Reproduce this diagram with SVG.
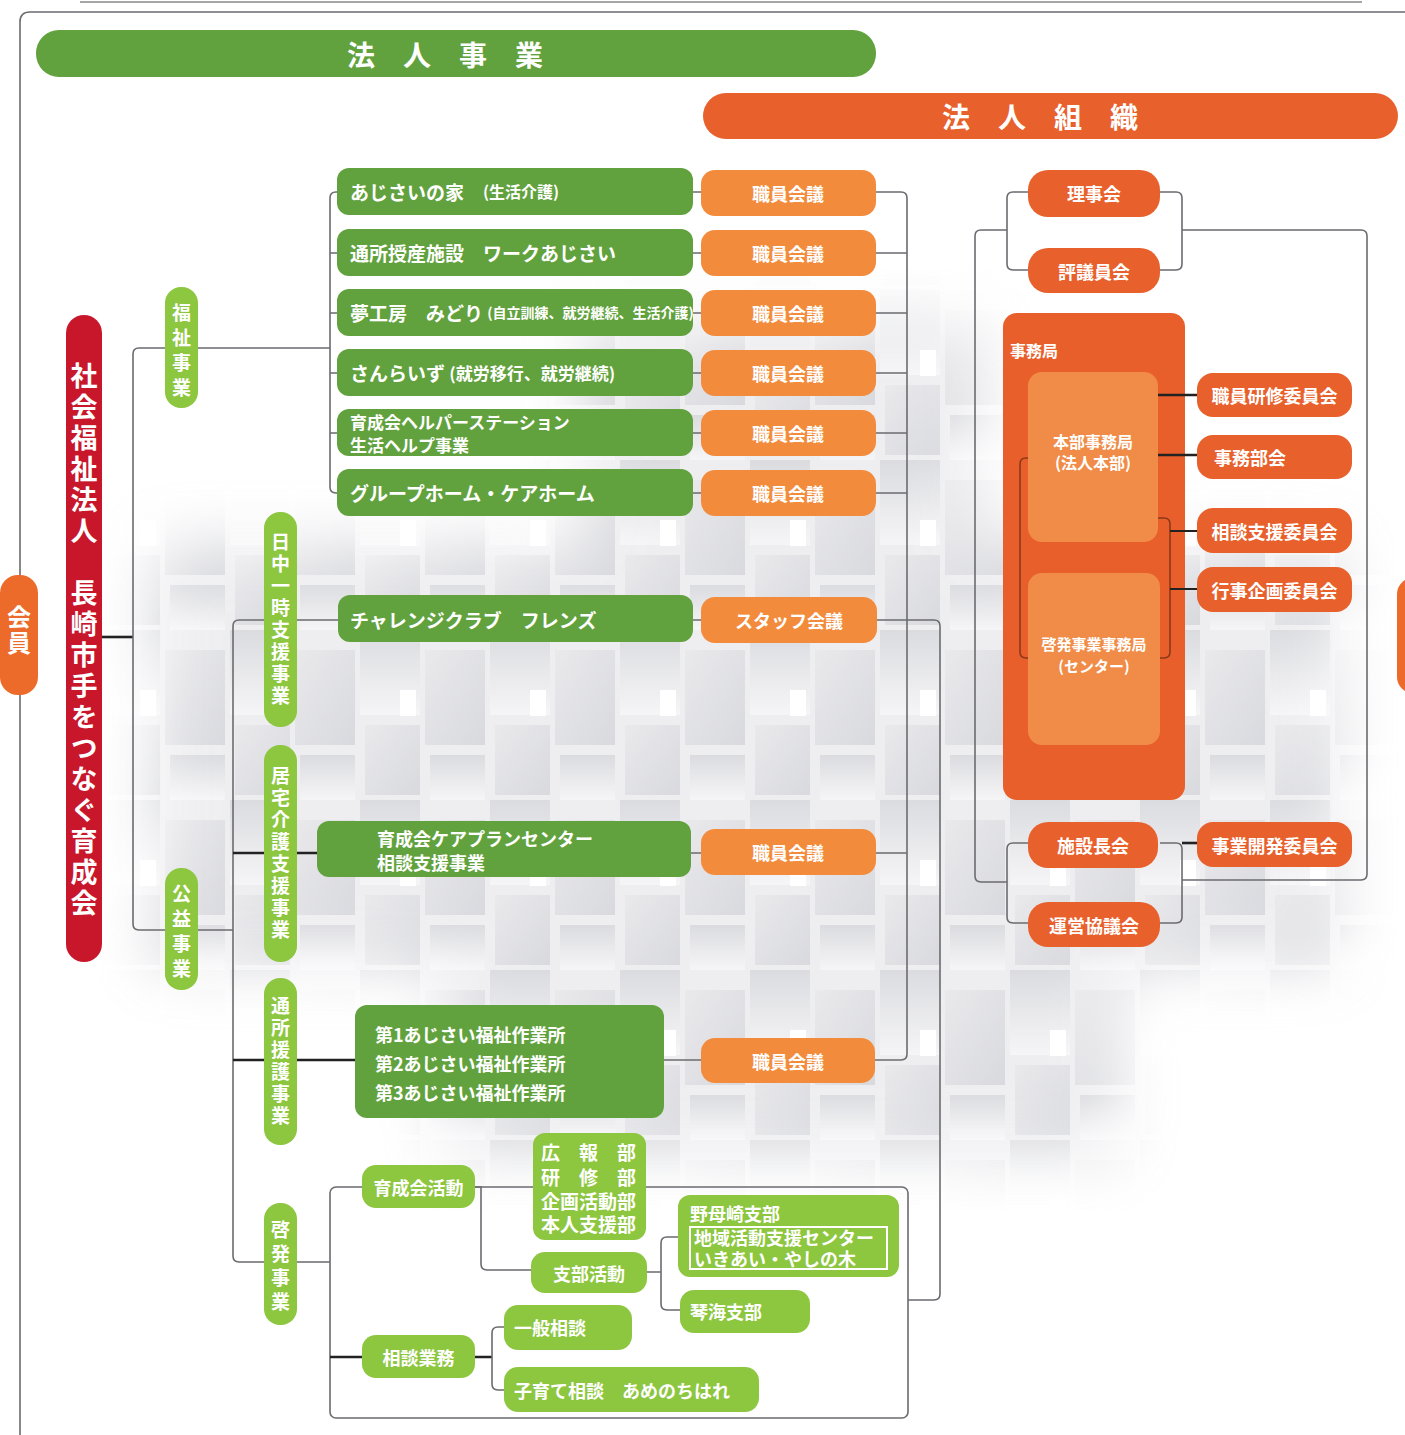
<svg xmlns="http://www.w3.org/2000/svg" width="1405" height="1435" viewBox="0 0 1405 1435">
<defs>
<style>
text{font-family:"Noto Sans CJK JP","Noto Sans",sans-serif;font-weight:700;fill:#fff}
.hd{font-size:28px;text-anchor:middle;dominant-baseline:central}
.g{fill:#62a23e}
.lg{fill:#8dc63f}
.om{fill:#f28b3c}
.or{fill:#e8602c}
.t19{font-size:19px;dominant-baseline:central}
.c{text-anchor:middle}
.t18{font-size:18px;dominant-baseline:central;text-anchor:middle}
.v{writing-mode:vertical-rl;text-orientation:upright;font-size:19px;letter-spacing:3px}
.ln{fill:none;stroke:#6b6b70;stroke-width:1.6}
.bk{fill:none;stroke:#222;stroke-width:2.6}
.br{fill:none;stroke:#8a3a1a;stroke-width:1.6}
</style>
<linearGradient id="tg" x1="0" y1="0" x2="0" y2="1"><stop offset="0" stop-color="#c4c5cc"/><stop offset="1" stop-color="#f0f0f3"/></linearGradient>
<linearGradient id="tg2" x1="0" y1="0" x2="1" y2="1"><stop offset="0" stop-color="#dcdce1"/><stop offset="1" stop-color="#c0c1c9"/></linearGradient>
<pattern id="mos" patternUnits="userSpaceOnUse" x="100" y="290" width="130" height="170">
<rect x="0" y="0" width="130" height="170" fill="#e4e4e8"/>
<rect x="0" y="0" width="60" height="85" fill="url(#tg)"/>
<rect x="65" y="20" width="60" height="95" fill="url(#tg2)"/>
<rect x="5" y="95" width="55" height="70" fill="url(#tg2)"/>
<rect x="70" y="125" width="55" height="45" fill="url(#tg)"/>
<rect x="40" y="60" width="16" height="26" fill="#fff"/>
</pattern>
<filter id="bl" x="-20%" y="-20%" width="140%" height="140%"><feGaussianBlur stdDeviation="30"/></filter>
<mask id="mk" maskUnits="userSpaceOnUse" x="0" y="0" width="1405" height="1435">
<polygon points="580,320 980,320 980,540 1340,540 1340,970 1120,970 1120,1160 440,1160 440,970 150,970 150,540 580,540" fill="#fff" filter="url(#bl)"/>
</mask>
</defs>
<rect width="1405" height="1435" fill="#fff"/>
<g id="mosaic" mask="url(#mk)" opacity="0.6">
<rect x="100" y="270" width="1300" height="940" fill="url(#mos)"/>
</g>

<g id="connectors">
<path class="ln" d="M20,1435 V22 Q20,12 30,12 H1405"/>
<path d="M80,2 H1362" stroke="#888" stroke-width="1.5"/>
<path class="bk" d="M102,637 H133"/>
<path class="ln" d="M330,348 H139 Q133,348 133,354 V924 Q133,930 139,930 H233"/>
<path class="ln" d="M340,620 H239 Q233,620 233,626 V1256 Q233,1262 239,1262 H330"/>
<path class="bk" d="M233,853 H318 M233,1060 H356"/>
<path class="ln" d="M337,192 H336 Q330,192 330,198 V487 Q330,493 336,493 H337 M330,253 H337 M330,313 H337 M330,373 H337 M330,433 H337"/>
<path class="ln" d="M693,192 H701 M693,253 H701 M693,313 H701 M693,373 H701 M693,433 H701 M693,493 H701 M693,620 H701 M691,853 H701 M664,1060 H701"/>
<path class="ln" d="M876,192 H901 Q907,192 907,198 V1054 Q907,1060 901,1060 H875 M876,253 H907 M876,313 H907 M876,373 H907 M876,433 H907 M876,493 H907 M876,853 H907"/>
<path class="ln" d="M877,620 H934 Q940,620 940,626 V1294 Q940,1300 934,1300 H908"/>
<rect class="ln" x="330" y="1187" width="578" height="231" rx="6"/>
<path class="ln" d="M475,1187 H481 V1264 Q481,1270 487,1270 H531"/>
<path class="ln" d="M647,1272 H661 M680,1237 H667 Q661,1237 661,1243 V1304 Q661,1310 667,1310 H680"/>
<path class="bk" d="M330,1357 H362 M475,1357 H492"/>
<path class="ln" d="M504,1327 H498 Q492,1327 492,1333 V1384 Q492,1390 498,1390 H504"/>
<path class="ln" d="M1028,192 H1013 Q1007,192 1007,198 V264 Q1007,270 1013,270 H1028 M1160,192 H1176 Q1182,192 1182,198 V264 Q1182,270 1176,270 H1160"/>
<path class="ln" d="M1182,230 H1361 Q1367,230 1367,236 V874 Q1367,880 1361,880 H1182"/>
<path class="ln" d="M1007,230 H981 Q975,230 975,236 V876 Q975,882 981,882 H1007"/>
<path class="ln" d="M1028,843 H1013 Q1007,843 1007,849 V917 Q1007,923 1013,923 H1028 M1160,843 H1176 Q1182,843 1182,849 V917 Q1182,923 1176,923 H1160"/>
<path class="bk" d="M1182,843 H1198"/>
</g>

<g id="hojin-jigyo"><rect x="36" y="30" width="840" height="47" rx="23" class="g"/><text x="445" y="54" class="hd">法　人　事　業</text></g>
<g id="hojin-soshiki"><rect x="703" y="93" width="695" height="46" rx="23" class="or"/><text x="1040" y="116" class="hd">法　人　組　織</text></g>

<g id="kaiin"><rect x="0" y="575" width="38" height="120" rx="18" fill="#ec6a2a"/><text x="19" y="605" class="v" style="font-size:24px;letter-spacing:2px">会員</text></g>
<g id="kaiin-right"><rect x="1397" y="578" width="40" height="115" rx="16" fill="#ec6a2a"/></g>
<g id="hojin"><rect x="66" y="315" width="36" height="647" rx="18" fill="#c8162b"/><text x="84" y="362" class="v" style="font-size:27px;letter-spacing:4px">社会福祉法人　長崎市手をつなぐ育成会</text></g>

<g id="fukushi"><rect x="165" y="287" width="33" height="121" rx="16" class="lg"/><text x="181.5" y="303" class="v" style="letter-spacing:6px">福祉事業</text></g>
<g id="koueki"><rect x="165" y="868" width="33" height="122" rx="16" class="lg"/><text x="181.5" y="884" class="v" style="letter-spacing:6px">公益事業</text></g>
<g id="nitchu"><rect x="264" y="512" width="33" height="215" rx="16" class="lg"/><text x="280.5" y="532" class="v">日中一時支援事業</text></g>
<g id="kyotaku"><rect x="264" y="745" width="33" height="217" rx="16" class="lg"/><text x="280.5" y="766" class="v">居宅介護支援事業</text></g>
<g id="tsusho"><rect x="264" y="978" width="33" height="167" rx="16" class="lg"/><text x="280.5" y="996" class="v">通所援護事業</text></g>
<g id="keihatsu"><rect x="264" y="1203" width="33" height="122" rx="16" class="lg"/><text x="280.5" y="1220" class="v" style="letter-spacing:5px">啓発事業</text></g>

<g id="ajisai-ie"><rect x="337" y="168" width="356" height="47" rx="12" class="g"/><text x="350" y="191" class="t19">あじさいの家　<tspan font-size="16">(生活介護)</tspan></text></g>
<g id="work-ajisai"><rect x="337" y="229" width="356" height="47" rx="12" class="g"/><text x="350" y="252" class="t19">通所授産施設　ワークあじさい</text></g>
<g id="midori"><rect x="337" y="289" width="356" height="47" rx="12" class="g"/><text x="350" y="312" class="t19">夢工房　みどり <tspan font-size="14">(自立訓練、就労継続、生活介護)</tspan></text></g>
<g id="sunrise"><rect x="337" y="349" width="356" height="47" rx="12" class="g"/><text x="350" y="372" class="t19">さんらいず <tspan font-size="17">(就労移行、就労継続)</tspan></text></g>
<g id="helper"><rect x="337" y="409" width="356" height="47" rx="12" class="g"/><text x="350" y="421" class="t19" style="font-size:17px">育成会ヘルパーステーション<tspan x="350" dy="23">生活ヘルプ事業</tspan></text></g>
<g id="gh"><rect x="337" y="469" width="356" height="47" rx="12" class="g"/><text x="350" y="492" class="t19">グループホーム・ケアホーム</text></g>

<g id="m1"><rect x="701" y="170" width="175" height="46" rx="14" class="om"/><text x="788" y="193" class="t18">職員会議</text></g>
<g id="m2"><rect x="701" y="230" width="175" height="46" rx="14" class="om"/><text x="788" y="253" class="t18">職員会議</text></g>
<g id="m3"><rect x="701" y="290" width="175" height="46" rx="14" class="om"/><text x="788" y="313" class="t18">職員会議</text></g>
<g id="m4"><rect x="701" y="350" width="175" height="46" rx="14" class="om"/><text x="788" y="373" class="t18">職員会議</text></g>
<g id="m5"><rect x="701" y="410" width="175" height="46" rx="14" class="om"/><text x="788" y="433" class="t18">職員会議</text></g>
<g id="m6"><rect x="701" y="470" width="175" height="46" rx="14" class="om"/><text x="788" y="493" class="t18">職員会議</text></g>

<g id="friends"><rect x="338" y="595" width="355" height="47" rx="12" class="g"/><text x="350" y="619" class="t19">チャレンジクラブ　フレンズ</text></g>
<g id="staff"><rect x="701" y="597" width="176" height="46" rx="14" class="om"/><text x="789" y="620" class="t18">スタッフ会議</text></g>
<g id="careplan"><rect x="317" y="821" width="374" height="56" rx="12" class="g"/><text x="377" y="838" class="t19" style="font-size:18px">育成会ケアプランセンター<tspan x="377" dy="24">相談支援事業</tspan></text></g>
<g id="m7"><rect x="701" y="829" width="175" height="46" rx="14" class="om"/><text x="788" y="852" class="t18">職員会議</text></g>
<g id="sagyosho"><rect x="355" y="1005" width="309" height="113" rx="12" class="g"/><text x="375" y="1034" class="t19" style="font-size:18px">第1あじさい福祉作業所<tspan x="375" dy="29">第2あじさい福祉作業所</tspan><tspan x="375" dy="29">第3あじさい福祉作業所</tspan></text></g>
<g id="m8"><rect x="701" y="1038" width="174" height="45" rx="14" class="om"/><text x="788" y="1061" class="t18">職員会議</text></g>

<g id="ikusei-katsudo"><rect x="362" y="1165" width="113" height="43" rx="14" class="lg"/><text x="418.5" y="1187" class="t18">育成会活動</text></g>
<g id="bukai"><rect x="533" y="1133" width="113" height="107" rx="12" class="lg"/><text x="541" y="1151" class="t19">広　報　部<tspan x="541" dy="25">研　修　部</tspan><tspan x="541" dy="24">企画活動部</tspan><tspan x="541" dy="23">本人支援部</tspan></text></g>
<g id="shibu"><rect x="531" y="1252" width="116" height="41" rx="14" class="lg"/><text x="589" y="1273" class="t18">支部活動</text></g>
<g id="nomozaki"><rect x="678" y="1195" width="221" height="82" rx="12" class="lg"/><text x="690" y="1213" class="t19" style="font-size:18px">野母崎支部</text><rect x="690" y="1227" width="197" height="42" fill="none" stroke="#fff" stroke-width="2"/><text x="694" y="1237" class="t19" style="font-size:18px">地域活動支援センター<tspan x="694" dy="21">いきあい・やしの木</tspan></text></g>
<g id="kinkai"><rect x="680" y="1290" width="130" height="43" rx="14" class="lg"/><text x="690" y="1311" class="t19" style="font-size:18px">琴海支部</text></g>
<g id="sodan-gyomu"><rect x="362" y="1335" width="113" height="43" rx="14" class="lg"/><text x="418.5" y="1357" class="t18">相談業務</text></g>
<g id="ippan"><rect x="504" y="1305" width="128" height="45" rx="14" class="lg"/><text x="514" y="1327" class="t19" style="font-size:18px">一般相談</text></g>
<g id="kosodate"><rect x="504" y="1367" width="255" height="45" rx="14" class="lg"/><text x="514" y="1390" class="t19" style="font-size:18px">子育て相談　あめのちはれ</text></g>

<g id="rijikai"><rect x="1028" y="170" width="132" height="47" rx="20" class="or"/><text x="1094" y="193" class="t18">理事会</text></g>
<g id="hyogiin"><rect x="1028" y="248" width="132" height="45" rx="20" class="or"/><text x="1094" y="271" class="t18">評議員会</text></g>
<g id="jimukyoku"><rect x="1003" y="313" width="182" height="487" rx="14" fill="#e95f2b"/><text x="1010" y="350" style="font-size:16px;dominant-baseline:central">事務局</text>
<rect x="1028" y="372" width="130" height="170" rx="14" fill="#f08c47"/><text x="1093" y="441" class="c" style="font-size:16px;dominant-baseline:central">本部事務局<tspan x="1093" dy="21">(法人本部)</tspan></text>
<rect x="1028" y="573" width="132" height="172" rx="14" fill="#f08c47"/><text x="1094" y="643" class="c" style="font-size:15px;dominant-baseline:central">啓発事業事務局<tspan x="1094" dy="22">(センター)</tspan></text>
<path class="br" d="M1028,458 H1026 Q1020,458 1020,464 V652 Q1020,658 1026,658 H1028 M1158,518 H1164 Q1170,518 1170,524 V652 Q1170,658 1164,658 H1160"/>
</g>
<g id="jimu-conn"><path class="bk" d="M1158,395 H1198 M1158,455 H1198"/><path d="M1170,531 H1198 M1170,589 H1198" stroke="#222" stroke-width="1.8" fill="none"/></g>
<g id="kenshu"><rect x="1197" y="373" width="155" height="44" rx="16" class="or"/><text x="1274.5" y="395" class="t18">職員研修委員会</text></g>
<g id="jimubukai"><rect x="1197" y="435" width="155" height="44" rx="16" class="or"/><text x="1250" y="457" class="t18">事務部会</text></g>
<g id="sodanshien"><rect x="1197" y="508" width="155" height="45" rx="16" class="or"/><text x="1274.5" y="531" class="t18">相談支援委員会</text></g>
<g id="gyoji"><rect x="1197" y="567" width="155" height="45" rx="16" class="or"/><text x="1274.5" y="590" class="t18">行事企画委員会</text></g>
<g id="shisetsucho"><rect x="1028" y="822" width="130" height="46" rx="20" class="or"/><text x="1093" y="845" class="t18">施設長会</text></g>
<g id="unei"><rect x="1028" y="902" width="132" height="45" rx="20" class="or"/><text x="1094" y="925" class="t18">運営協議会</text></g>
<g id="jigyokaihatsu"><rect x="1197" y="822" width="155" height="45" rx="16" class="or"/><text x="1274.5" y="845" class="t18">事業開発委員会</text></g>
</svg>
